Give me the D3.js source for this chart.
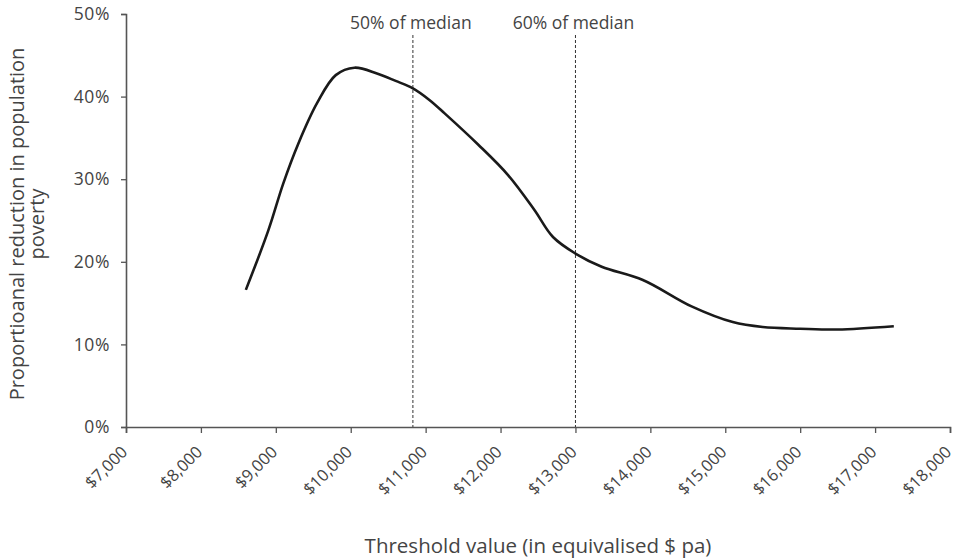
<!DOCTYPE html>
<html><head><meta charset="utf-8">
<script src="https://cdn.jsdelivr.net/npm/d3@7"></script>
<style>body{margin:0;background:#fff}svg text{font-family:"Open Sans",sans-serif;fill:#444}</style>
</head><body><svg id="c" width="955" height="560"></svg>
<script>
const thresholds = [8600,8900,9100,9300,9550,9800,10050,10350,10600,10830,11050,11250,11700,12100,12450,12700,13000,13350,13900,14550,15100,15500,16000,16500,17250];
const reduction = [16.6,23.8,29.5,34.3,39.2,42.6,43.5,42.8,41.9,41.0,39.6,38.0,34.2,30.5,26.3,23.0,21.0,19.4,17.8,14.6,12.7,12.1,11.9,11.8,12.2];
const xTicks = [7000,8000,9000,10000,11000,12000,13000,14000,15000,16000,17000,18000];
const yTicks = [0,10,20,30,40,50];
const refLines = [{v:10830,label:"50% of median"},{v:13000,label:"60% of median"}];
const yTitle = ["Proportioanal reduction in population","poverty"];
const xTitle = "Threshold value (in equivalised $ pa)";

const svg = d3.select("#c");
const x = d3.scaleLinear().domain([7000,18000]).range([126,950]);
const y = d3.scaleLinear().domain([0,50]).range([427,14]);

const fmt = d => "$" + d3.format(",")(d);
const gx = svg.append("g").attr("transform","translate(0,427)")
  .call(d3.axisBottom(x).tickValues(xTicks).tickSize(6).tickFormat(fmt));
gx.select(".domain").attr("stroke","#555").attr("stroke-width",1.6);
gx.selectAll(".tick line").attr("stroke","#555").attr("stroke-width",1.3);
gx.selectAll(".tick text").attr("font-size",16.5).attr("text-anchor","end")
  .attr("dy",null).attr("y",0)
  .attr("transform","translate(2,26) rotate(-45)");

const gy = svg.append("g").attr("transform","translate(126,0)")
  .call(d3.axisLeft(y).tickValues(yTicks).tickSize(5).tickFormat(d=>d+"%"));
gy.select(".domain").attr("stroke","#555").attr("stroke-width",1.6);
gy.selectAll(".tick line").attr("stroke","#555").attr("stroke-width",1.3);
gy.selectAll(".tick text").attr("font-size",17.5).attr("x",-16).attr("letter-spacing",0.6);

svg.selectAll("line.ref").data(refLines).enter().append("line").attr("class","ref")
  .attr("x1",d=>x(d.v)).attr("x2",d=>x(d.v)).attr("y1",35).attr("y2",427)
  .attr("stroke","#333").attr("stroke-width",1).attr("stroke-dasharray","3,2");
svg.selectAll("text.ref").data(refLines).enter().append("text").attr("class","ref")
  .attr("x",d=>x(d.v)-2).attr("y",29).attr("text-anchor","middle").attr("font-size",17.5)
  .text(d=>d.label);

const line = d3.line().x((d,i)=>x(thresholds[i])).y(d=>y(d)).curve(d3.curveCatmullRom.alpha(0.5));
svg.append("path").attr("d",line(reduction)).attr("fill","none")
  .attr("stroke","#1a1a1a").attr("stroke-width",2.6);

const yt = svg.append("text").attr("transform","translate(24,224) rotate(-90)")
  .attr("text-anchor","middle").attr("font-size",20);
yt.selectAll("tspan").data(yTitle).enter().append("tspan")
  .attr("x",0).attr("dy",(d,i)=>i?20:0).text(d=>d);

svg.append("text").attr("x",538).attr("y",553).attr("text-anchor","middle")
  .attr("font-size",20.5).text(xTitle);
</script></body></html>
